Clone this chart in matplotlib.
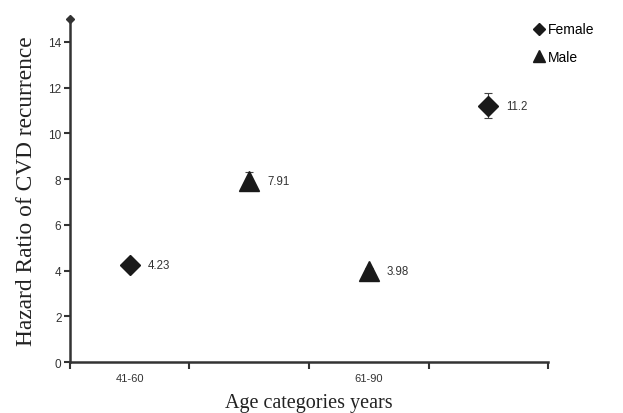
import matplotlib
matplotlib.use("Agg")
import matplotlib.pyplot as plt

# Data
age_labels = ["41-60", "61-90"]
slots = 4
female_slot = [0, 3]
female_hr = [4.23, 11.2]
female_err = [0.15, 0.55]
male_slot = [1, 2]
male_hr = [7.91, 3.98]
male_err = [0.4, 0.15]
yticks = [0, 2, 4, 6, 8, 10, 12, 14]

axis_color = "#333333"
mark_color = "#1a1a1a"

fig = plt.figure(figsize=(6.23, 4.14), dpi=100)
ax = fig.add_axes([0.112, 0.123, 0.768, 0.829])

fx = [s + 0.5 for s in female_slot]
mx = [s + 0.5 for s in male_slot]

ax.errorbar(fx, female_hr, yerr=female_err, fmt="D", color=mark_color, ms=10.5,
            ecolor="#444444", elinewidth=0.8, capsize=3, capthick=0.8, label="Female", zorder=3)
ax.errorbar(mx, male_hr, yerr=male_err, fmt="^", color=mark_color, ms=15,
            ecolor="#444444", elinewidth=0.8, capsize=3, capthick=0.8, label="Male", zorder=3)

for x, y in zip(fx, female_hr):
    ax.annotate(f"{y:g}", (x, y), xytext=(13, 0), textcoords="offset points",
                va="center", ha="left", fontsize=8.3, color="#333333", family="Liberation Sans")
for x, y in zip(mx, male_hr):
    ax.annotate(f"{y:g}", (x, y), xytext=(13, 0), textcoords="offset points",
                va="center", ha="left", fontsize=8.3, color="#333333", family="Liberation Sans")

ax.set_xlim(0, slots)
ax.set_ylim(0, 15)
ax.set_yticks(yticks)
ax.set_yticklabels([str(v) for v in yticks], fontsize=8.5, family="Liberation Sans", color="#333333")
ax.set_xticks(range(slots + 1))
ax.set_xticklabels([""] * (slots + 1))
ax.set_xticks([0.5, 2.5], minor=True)
ax.set_xticklabels(age_labels, minor=True, fontsize=8, family="Liberation Sans", color="#333333")
ax.tick_params(axis="x", which="minor", length=0, pad=8)
ax.tick_params(axis="x", which="major", length=5, width=1.5, color=axis_color, direction="out")
ax.tick_params(axis="y", length=4, width=1.5, color=axis_color, direction="out", pad=2)

for side in ["top", "right"]:
    ax.spines[side].set_visible(False)
for side in ["left", "bottom"]:
    ax.spines[side].set_color(axis_color)
    ax.spines[side].set_linewidth(1.8)

ax.plot([0], [15], marker="D", ms=4.5, color=axis_color, clip_on=False, zorder=4)

ax.set_xlabel("Age categories years", family="Liberation Serif", fontsize=14.5, color="#222222", labelpad=7)
ax.set_ylabel("Hazard Ratio of CVD recurrence", family="Liberation Serif", fontsize=16.8, color="#222222", labelpad=8)

handles, labels = ax.get_legend_handles_labels()
h2 = [plt.Line2D([], [], marker="D", color=mark_color, ls="none", ms=6.5),
      plt.Line2D([], [], marker="^", color=mark_color, ls="none", ms=9)]
leg = fig.legend(h2, labels, loc="upper left", bbox_to_anchor=(0.84, 0.967), frameon=False,
                 prop={"family": "Liberation Sans", "size": 10}, handlelength=0.9,
                 handletextpad=0.2, labelspacing=1.0, borderpad=0.2)

fig.savefig("out.png", dpi=100)
